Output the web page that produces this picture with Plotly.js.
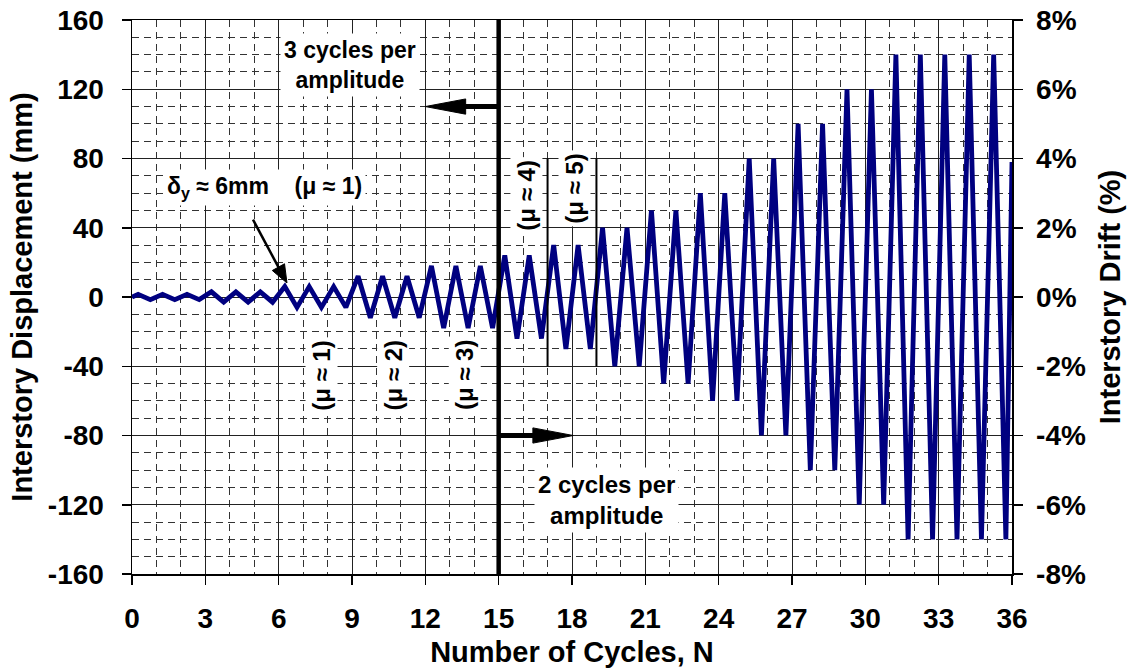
<!DOCTYPE html>
<html>
<head>
<meta charset="utf-8">
<script src="https://cdn.plot.ly/plotly-3.0.1.min.js"></script>
<style>html,body{margin:0;padding:0;background:#fff;}#chart{width:1136px;height:671px;}</style>
</head>
<body>
<div id="chart"></div>
<script>
// Peak displacement amplitude (mm) applied in each loading cycle N = 0..35
const cycleAmplitudes = [1.5, 1.5, 1.5, 3, 3, 3, 6, 6, 6, 12, 12, 12, 18, 18, 18,
  24, 24, 30, 30, 40, 40, 50, 50, 60, 60, 80, 80, 100, 100, 120, 120,
  140, 140, 140, 140, 140];
// final point of the record at the right edge
const endCycle = 36;
const endDisplacement = 78;
// drift scale: 160 mm of interstory displacement = 8 % drift
const mmPerPercentDrift = 20;

const xTickVals = [0, 3, 6, 9, 12, 15, 18, 21, 24, 27, 30, 33, 36];
const xTickText = ['0', '3', '6', '9', '12', '15', '18', '21', '24', '27', '30', '33', '36'];
const yTickVals = [-160, -120, -80, -40, 0, 40, 80, 120, 160];
const yTickText = ['-160', '-120', '-80', '-40', '0', '40', '80', '120', '160'];
const driftTickVals = [-8, -6, -4, -2, 0, 2, 4, 6, 8];
const driftTickText = ['-8%', '-6%', '-4%', '-2%', '0%', '2%', '4%', '6%', '8%'];

// build the loading history: each cycle goes to +amp at quarter-cycle and -amp at three-quarter
const cycN = [0];
const disp = [0];
cycleAmplitudes.forEach((a, i) => {
  cycN.push(i + 0.25); disp.push(a);
  cycN.push(i + 0.75); disp.push(-a);
});
cycN.push(endCycle); disp.push(endDisplacement);
const drift = disp.map(d => d / mmPerPercentDrift);

const FONT = 'Arial, "Liberation Sans", sans-serif';
const txt = (s) => ({family: FONT, size: s, color: '#000', weight: 700});

const trace = {
  x: cycN, y: disp, type: 'scatter', mode: 'lines',
  line: {color: '#000080', width: 4.8, shape: 'linear'},
  hoverinfo: 'skip', showlegend: false
};
const driftTrace = {
  x: cycN, y: drift, type: 'scatter', mode: 'lines', yaxis: 'y2',
  line: {color: 'rgba(0,0,0,0)', width: 0}, opacity: 0,
  hoverinfo: 'skip', showlegend: false
};

const grid = {
  showline: true, linecolor: '#000', linewidth: 1.5,
  showgrid: true, gridcolor: '#222', gridwidth: 1,
  zeroline: false, ticks: 'outside', ticklen: 9, tickwidth: 1.5, tickcolor: '#000',
  tickfont: txt(28), fixedrange: true
};

const layout = {
  width: 1136, height: 671,
  margin: {l: 132, r: 124, t: 20, b: 97},
  paper_bgcolor: '#fff', plot_bgcolor: '#fff',
  showlegend: false,
  xaxis: Object.assign({}, grid, {
    range: [0, 36], tickmode: 'array', tickvals: xTickVals, ticktext: xTickText,
    mirror: true, ticklabelstandoff: 10,
    minor: {dtick: 1, showgrid: true, gridcolor: '#333', griddash: '7px,5px', gridwidth: 1, ticks: ''},
    title: {text: 'Number of Cycles, N', font: txt(29), standoff: 8}
  }),
  yaxis: Object.assign({}, grid, {
    range: [-160, 160], tickmode: 'array', tickvals: yTickVals, ticktext: yTickText,
    ticklabelstandoff: 12,
    minor: {dtick: 10, showgrid: true, gridcolor: '#333', griddash: '7px,5px', gridwidth: 1, ticks: ''},
    title: {text: 'Interstory Displacement (mm)', font: txt(29), standoff: 6}
  }),
  yaxis2: {
    overlaying: 'y', side: 'right', anchor: 'x',
    range: [-8, 8], tickmode: 'array', tickvals: driftTickVals, ticktext: driftTickText,
    showline: true, linecolor: '#000', linewidth: 1.5, showgrid: false, zeroline: false,
    ticks: 'outside', ticklen: 9, tickwidth: 1.5, tickcolor: '#000', ticklabelstandoff: 8,
    tickfont: txt(28), fixedrange: true,
    title: {text: 'Interstory Drift (%)', font: txt(29), standoff: 14}
  },
  shapes: [
    {type: 'line', xref: 'x', yref: 'y', x0: 15, x1: 15, y0: -160, y1: 160, line: {color: '#000', width: 4.5}},
    {type: 'line', xref: 'x', yref: 'y', x0: 17, x1: 17, y0: -40, y1: 80, line: {color: '#000', width: 2}},
    {type: 'line', xref: 'x', yref: 'y', x0: 19, x1: 19, y0: -40, y1: 80, line: {color: '#000', width: 2}},
    // "3 cycles" arrow (pointing left)
    {type: 'line', xref: 'x', yref: 'y', x0: 15, x1: 13.5, y0: 110, y1: 110, line: {color: '#000', width: 5}},
    {type: 'path', xref: 'x', yref: 'y', path: 'M 12,110 L 13.65,114.4 L 13.65,105.6 Z', fillcolor: '#000', line: {color: '#000', width: 1}},
    // "2 cycles" arrow (pointing right)
    {type: 'line', xref: 'x', yref: 'y', x0: 15, x1: 16.5, y0: -80, y1: -80, line: {color: '#000', width: 5}},
    {type: 'path', xref: 'x', yref: 'y', path: 'M 18.05,-80 L 16.4,-75.6 L 16.4,-84.4 Z', fillcolor: '#000', line: {color: '#000', width: 1}},
    // delta_y pointer arrow
    {type: 'line', xref: 'x', yref: 'y', x0: 4.95, y0: 44.7, x1: 6.0, y1: 17.0, line: {color: '#000', width: 2.5}},
    {type: 'path', xref: 'x', yref: 'y', path: 'M 6.34,8.1 L 5.74,15.3 L 6.24,19.2 Z', fillcolor: '#000', line: {color: '#000', width: 1}}
  ],
  annotations: [
    {xref: 'x', yref: 'y', x: 8.92, y: 134, text: '3 cycles per<br>amplitude', showarrow: false,
      font: txt(23), bgcolor: '#fff', xanchor: 'center', yanchor: 'middle', borderpad: 3},
    {xref: 'x', yref: 'y', x: 19.43, y: -117, text: '2 cycles per<br>amplitude', showarrow: false,
      font: txt(24), bgcolor: '#fff', xanchor: 'center', yanchor: 'middle', borderpad: 3},
    {xref: 'x', yref: 'y', x: 5.44, y: 63, text: 'δ<sub>y</sub> ≈ 6mm\u00a0\u00a0\u00a0\u00a0(μ ≈ 1)', showarrow: false,
      font: txt(23), bgcolor: '#fff', xanchor: 'center', yanchor: 'middle', borderpad: 3},
    {xref: 'x', yref: 'y', x: 7.77, y: -45, text: '(μ ≈ 1)', textangle: -90, showarrow: false,
      font: txt(24), bgcolor: '#fff', borderpad: 2},
    {xref: 'x', yref: 'y', x: 10.7, y: -45, text: '(μ ≈ 2)', textangle: -90, showarrow: false,
      font: txt(24), bgcolor: '#fff', borderpad: 2},
    {xref: 'x', yref: 'y', x: 13.63, y: -45, text: '(μ ≈ 3)', textangle: -90, showarrow: false,
      font: txt(24), bgcolor: '#fff', borderpad: 2},
    {xref: 'x', yref: 'y', x: 16.15, y: 59, text: '(μ ≈ 4)', textangle: -90, showarrow: false,
      font: txt(24), bgcolor: '#fff', borderpad: 2},
    {xref: 'x', yref: 'y', x: 18.12, y: 63, text: '(μ ≈ 5)', textangle: -90, showarrow: false,
      font: txt(24), bgcolor: '#fff', borderpad: 2}
  ]
};

Plotly.newPlot('chart', [trace, driftTrace], layout, {staticPlot: true, displayModeBar: false});
</script>
</body>
</html>
